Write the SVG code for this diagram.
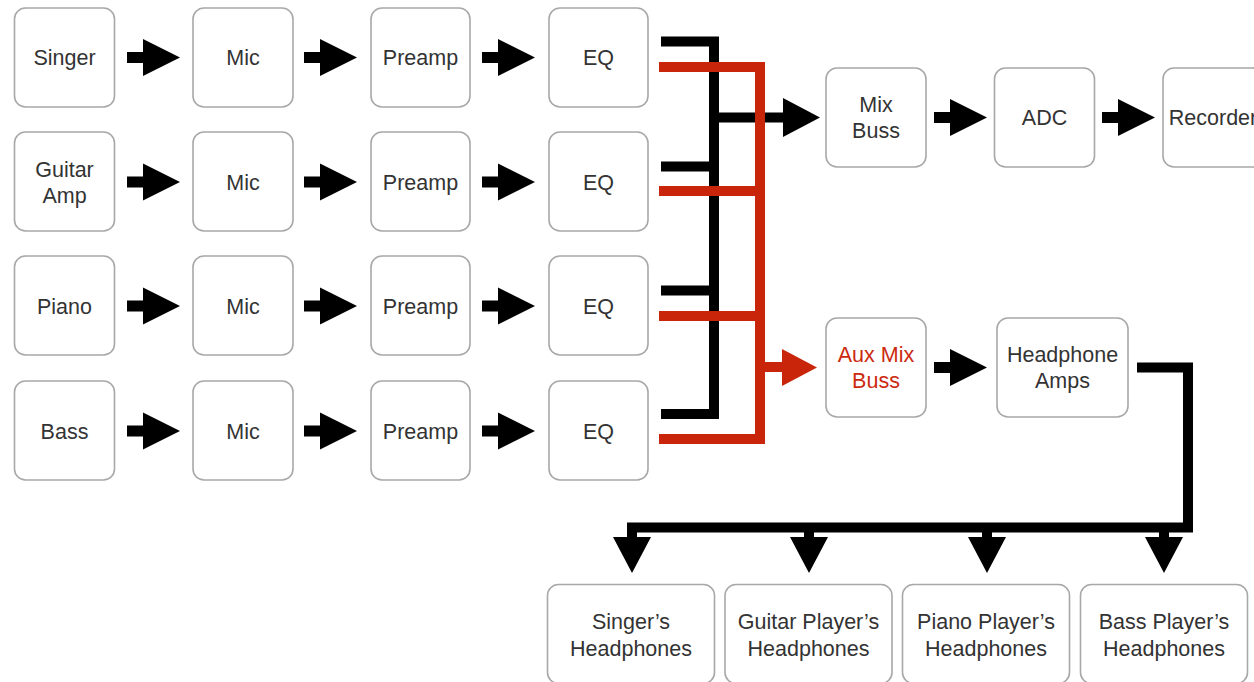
<svg xmlns="http://www.w3.org/2000/svg" xmlns:xlink="http://www.w3.org/1999/xlink" width="1254" height="682" viewBox="0 0 1254 682">
<style>
.box{fill:#fff;stroke:#a8a8a8;stroke-width:1.6}
.t{font-family:"Liberation Sans",Arial,sans-serif;font-size:21.5px;fill:#333;text-anchor:middle}
.red{fill:#cc2a0e}
.bl{fill:none;stroke:#000;stroke-width:10}
.rl{fill:none;stroke:#c8250a;stroke-width:10}
</style>
<defs>
<path id="ar" d="M0,-5.5 H16 V-18.5 L53,0 L16,18.5 V5.5 H0 Z" fill="#000"/>
<path id="ard" d="M-5,0 V5 H-19 L0,41 L19,5 H5 V0 Z" fill="#000"/>
</defs>
<rect width="1254" height="682" fill="#fff"/>

<g id="connectors">
<use xlink:href="#ar" x="127" y="57.5"/>
<use xlink:href="#ar" x="304" y="57.5"/>
<use xlink:href="#ar" x="482" y="57.5"/>
<use xlink:href="#ar" x="127" y="182"/>
<use xlink:href="#ar" x="304" y="182"/>
<use xlink:href="#ar" x="482" y="182"/>
<use xlink:href="#ar" x="127" y="306"/>
<use xlink:href="#ar" x="304" y="306"/>
<use xlink:href="#ar" x="482" y="306"/>
<use xlink:href="#ar" x="127" y="431"/>
<use xlink:href="#ar" x="304" y="431"/>
<use xlink:href="#ar" x="482" y="431"/>
<!-- black main bus -->
<path class="bl" d="M661,41.5 H714 V414 H661"/>
<path class="bl" d="M661,166.5 H714 M661,290.5 H714"/>
<path class="bl" d="M714,117.5 H785" stroke-width="9"/>
<path d="M783,98 L820,117.5 L783,137 Z" fill="#000"/>
<!-- red aux bus -->
<path class="rl" d="M659,67 H760 V439 H659"/>
<path class="rl" d="M659,191 H760 M659,316 H760"/>
<path class="rl" d="M760,367 H784"/>
<path d="M782,349 L817,367.5 L782,386 Z" fill="#c8250a"/>
<!-- right chain -->
<use xlink:href="#ar" x="934" y="117.5"/>
<use xlink:href="#ar" x="1102" y="117.5"/>
<use xlink:href="#ar" x="934" y="367.5"/>
<!-- headphone distribution -->
<path class="bl" d="M1137,367.5 H1188 V527.5 H632 V534"/>
<use xlink:href="#ard" x="632" y="532"/>
<use xlink:href="#ard" x="809" y="532"/>
<use xlink:href="#ard" x="987" y="532"/>
<use xlink:href="#ard" x="1164" y="532"/>
</g>

<g id="singer"><rect class="box" x="14.5" y="8" width="100" height="99" rx="11"/><text class="t" x="64.5" y="65">Singer</text></g>
<g id="mic1"><rect class="box" x="193" y="8" width="100" height="99" rx="11"/><text class="t" x="243" y="65">Mic</text></g>
<g id="preamp1"><rect class="box" x="371" y="8" width="99" height="99" rx="11"/><text class="t" x="420.5" y="65">Preamp</text></g>
<g id="eq1"><rect class="box" x="549" y="8" width="99" height="99" rx="11"/><text class="t" x="598.5" y="65">EQ</text></g>

<g id="guitar"><rect class="box" x="14.5" y="132" width="100" height="99" rx="11"/><text class="t" x="64.5" y="177">Guitar</text><text class="t" x="64.5" y="203">Amp</text></g>
<g id="mic2"><rect class="box" x="193" y="132" width="100" height="99" rx="11"/><text class="t" x="243" y="189.5">Mic</text></g>
<g id="preamp2"><rect class="box" x="371" y="132" width="99" height="99" rx="11"/><text class="t" x="420.5" y="189.5">Preamp</text></g>
<g id="eq2"><rect class="box" x="549" y="132" width="99" height="99" rx="11"/><text class="t" x="598.5" y="189.5">EQ</text></g>

<g id="piano"><rect class="box" x="14.5" y="256" width="100" height="99" rx="11"/><text class="t" x="64.5" y="313.5">Piano</text></g>
<g id="mic3"><rect class="box" x="193" y="256" width="100" height="99" rx="11"/><text class="t" x="243" y="313.5">Mic</text></g>
<g id="preamp3"><rect class="box" x="371" y="256" width="99" height="99" rx="11"/><text class="t" x="420.5" y="313.5">Preamp</text></g>
<g id="eq3"><rect class="box" x="549" y="256" width="99" height="99" rx="11"/><text class="t" x="598.5" y="313.5">EQ</text></g>

<g id="bass"><rect class="box" x="14.5" y="381" width="100" height="99" rx="11"/><text class="t" x="64.5" y="438.5">Bass</text></g>
<g id="mic4"><rect class="box" x="193" y="381" width="100" height="99" rx="11"/><text class="t" x="243" y="438.5">Mic</text></g>
<g id="preamp4"><rect class="box" x="371" y="381" width="99" height="99" rx="11"/><text class="t" x="420.5" y="438.5">Preamp</text></g>
<g id="eq4"><rect class="box" x="549" y="381" width="99" height="99" rx="11"/><text class="t" x="598.5" y="438.5">EQ</text></g>

<g id="mixbuss"><rect class="box" x="826" y="68" width="100" height="99" rx="11"/><text class="t" x="876" y="112">Mix</text><text class="t" x="876" y="138">Buss</text></g>
<g id="adc"><rect class="box" x="994.5" y="68" width="100" height="99" rx="11"/><text class="t" x="1044.5" y="125">ADC</text></g>
<g id="recorder"><rect class="box" x="1163" y="68" width="100" height="99" rx="11"/><text class="t" x="1213" y="125">Recorder</text></g>

<g id="auxmixbuss"><rect class="box" x="826" y="318" width="100" height="99" rx="11"/><text class="t red" x="876" y="362">Aux Mix</text><text class="t red" x="876" y="388">Buss</text></g>
<g id="headphoneamps"><rect class="box" x="997" y="318" width="131" height="99" rx="11"/><text class="t" x="1062.5" y="362">Headphone</text><text class="t" x="1062.5" y="388">Amps</text></g>

<g id="singerhp"><rect class="box" x="547.5" y="584.5" width="167" height="99" rx="11"/><text class="t" x="631" y="629">Singer’s</text><text class="t" x="631" y="656">Headphones</text></g>
<g id="guitarhp"><rect class="box" x="725" y="584.5" width="167" height="99" rx="11"/><text class="t" x="808.5" y="629">Guitar Player’s</text><text class="t" x="808.5" y="656">Headphones</text></g>
<g id="pianohp"><rect class="box" x="902.5" y="584.5" width="167" height="99" rx="11"/><text class="t" x="986" y="629">Piano Player’s</text><text class="t" x="986" y="656">Headphones</text></g>
<g id="basshp"><rect class="box" x="1080.5" y="584.5" width="167" height="99" rx="11"/><text class="t" x="1164" y="629">Bass Player’s</text><text class="t" x="1164" y="656">Headphones</text></g>
</svg>
